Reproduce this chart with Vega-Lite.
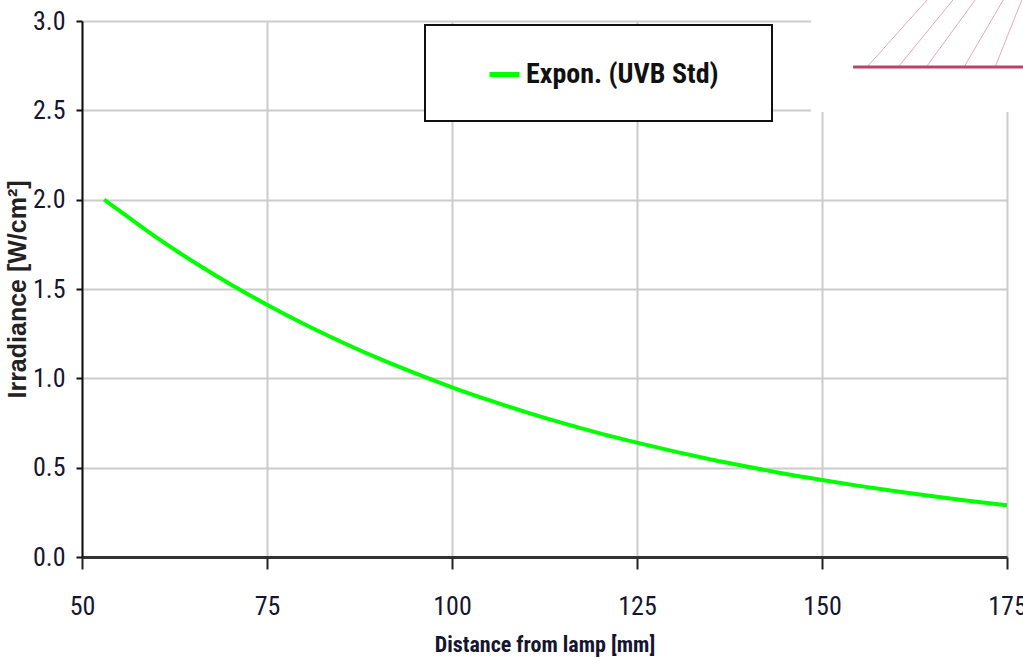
{
  "$schema": "https://vega.github.io/schema/vega-lite/v6.json",
  "width": 925,
  "height": 536,
  "autosize": {"type": "none"},
  "padding": {"left": 82, "top": 21, "right": 16, "bottom": 103},
  "background": "white",
  "config": {"view": {"stroke": null}, "legend": {"strokeWidth": 2}},
  "datasets": {
    "curve": [
      {"distance": 53, "irradiance": 2.0, "series": "Expon. (UVB Std)"},
      {"distance": 55, "irradiance": 1.94, "series": "Expon. (UVB Std)"},
      {"distance": 60, "irradiance": 1.79, "series": "Expon. (UVB Std)"},
      {"distance": 65, "irradiance": 1.654, "series": "Expon. (UVB Std)"},
      {"distance": 70, "irradiance": 1.528, "series": "Expon. (UVB Std)"},
      {"distance": 75, "irradiance": 1.412, "series": "Expon. (UVB Std)"},
      {"distance": 80, "irradiance": 1.304, "series": "Expon. (UVB Std)"},
      {"distance": 85, "irradiance": 1.205, "series": "Expon. (UVB Std)"},
      {"distance": 90, "irradiance": 1.113, "series": "Expon. (UVB Std)"},
      {"distance": 95, "irradiance": 1.029, "series": "Expon. (UVB Std)"},
      {"distance": 100, "irradiance": 0.95, "series": "Expon. (UVB Std)"},
      {"distance": 105, "irradiance": 0.878, "series": "Expon. (UVB Std)"},
      {"distance": 110, "irradiance": 0.811, "series": "Expon. (UVB Std)"},
      {"distance": 115, "irradiance": 0.749, "series": "Expon. (UVB Std)"},
      {"distance": 120, "irradiance": 0.692, "series": "Expon. (UVB Std)"},
      {"distance": 125, "irradiance": 0.64, "series": "Expon. (UVB Std)"},
      {"distance": 130, "irradiance": 0.591, "series": "Expon. (UVB Std)"},
      {"distance": 135, "irradiance": 0.546, "series": "Expon. (UVB Std)"},
      {"distance": 140, "irradiance": 0.505, "series": "Expon. (UVB Std)"},
      {"distance": 145, "irradiance": 0.466, "series": "Expon. (UVB Std)"},
      {"distance": 150, "irradiance": 0.431, "series": "Expon. (UVB Std)"},
      {"distance": 155, "irradiance": 0.398, "series": "Expon. (UVB Std)"},
      {"distance": 160, "irradiance": 0.368, "series": "Expon. (UVB Std)"},
      {"distance": 165, "irradiance": 0.34, "series": "Expon. (UVB Std)"},
      {"distance": 170, "irradiance": 0.314, "series": "Expon. (UVB Std)"},
      {"distance": 175, "irradiance": 0.29, "series": "Expon. (UVB Std)"}
    ],
    "cover": [
      {"distance": 148.5, "distance2": 177.3, "irradiance": 2.49, "irradiance2": 3.12}
    ],
    "hatch": [
      {"distance": 156.1, "distance2": 164.2, "irradiance": 2.743, "irradiance2": 3.118},
      {"distance": 160.3, "distance2": 167.7, "irradiance": 2.743, "irradiance2": 3.118},
      {"distance": 164.1, "distance2": 170.7, "irradiance": 2.743, "irradiance2": 3.118},
      {"distance": 169.2, "distance2": 174.5, "irradiance": 2.743, "irradiance2": 3.118},
      {"distance": 173.4, "distance2": 177.0, "irradiance": 2.743, "irradiance2": 3.118}
    ],
    "edge": [
      {"distance": 154.2, "distance2": 177.3, "irradiance": 2.743}
    ]
  },
  "layer": [
    {
      "data": {"name": "cover"},
      "mark": {"type": "rect", "fill": "white", "stroke": null, "clip": false},
      "encoding": {
        "x": {"field": "distance", "type": "quantitative", "scale": {"domain": [50, 175], "nice": false, "zero": false}},
        "x2": {"field": "distance2"},
        "y": {"field": "irradiance", "type": "quantitative", "scale": {"domain": [0, 3], "nice": false}},
        "y2": {"field": "irradiance2"}
      }
    },
    {
      "data": {"name": "hatch"},
      "mark": {"type": "rule", "stroke": "#e3a9bd", "strokeWidth": 1, "clip": false},
      "encoding": {
        "x": {"field": "distance", "type": "quantitative"},
        "x2": {"field": "distance2"},
        "y": {"field": "irradiance", "type": "quantitative"},
        "y2": {"field": "irradiance2"}
      }
    },
    {
      "data": {"name": "edge"},
      "mark": {"type": "rule", "stroke": "#b8446c", "strokeWidth": 3, "clip": false},
      "encoding": {
        "x": {"field": "distance", "type": "quantitative"},
        "x2": {"field": "distance2"},
        "y": {"field": "irradiance", "type": "quantitative"}
      }
    },
    {
      "data": {"name": "curve"},
      "mark": {"type": "line", "strokeWidth": 4, "interpolate": "monotone"},
      "encoding": {
        "x": {
          "field": "distance", "type": "quantitative",
          "scale": {"domain": [50, 175], "nice": false, "zero": false},
          "axis": {
            "title": "Distance from lamp [mm]",
            "values": [50, 75, 100, 125, 150, 175],
            "grid": true, "gridColor": "#cccccc", "gridWidth": 2,
            "domainColor": "#333333", "domainWidth": 3,
            "tickColor": "#222222", "tickWidth": 2, "tickSize": 12,
            "labelFont": "Roboto Condensed, Liberation Sans", "labelFontSize": 26, "labelColor": "#151530",
            "labelPadding": 24, "labelFlush": false,
            "titleFont": "Roboto Condensed, Liberation Sans", "titleFontSize": 22, "titleFontWeight": "bold",
            "titleColor": "#151530", "titlePadding": 15
          }
        },
        "y": {
          "field": "irradiance", "type": "quantitative",
          "scale": {"domain": [0, 3], "nice": false},
          "axis": {
            "title": "Irradiance [W/cm²]",
            "values": [0, 0.5, 1, 1.5, 2, 2.5, 3],
            "format": ".1f",
            "grid": true, "gridColor": "#cccccc", "gridWidth": 2,
            "domainColor": "#111111", "domainWidth": 2,
            "tickColor": "#111111", "tickWidth": 2, "tickSize": 6,
            "labelFont": "Roboto Condensed, Liberation Sans", "labelFontSize": 26, "labelColor": "#151530",
            "labelPadding": 11, "labelFlush": false,
            "titleFont": "Liberation Sans", "titleFontSize": 25, "titleFontWeight": "bold",
            "titleColor": "#222222", "titlePadding": 2
          }
        },
        "color": {
          "field": "series", "type": "nominal",
          "scale": {"domain": ["Expon. (UVB Std)"], "range": ["#00ff00"]},
          "legend": {
            "title": null,
            "orient": "none", "legendX": 343, "legendY": 4,
            "fillColor": "white", "strokeColor": "#111111",
            "padding": 32,
            "symbolType": "stroke", "symbolSize": 900, "symbolStrokeWidth": 5, "symbolOffset": 30,
            "labelFont": "Roboto Condensed, Liberation Sans", "labelFontSize": 28, "labelFontWeight": "bold",
            "labelColor": "#111111", "labelOffset": 4, "labelLimit": 0,
            "labelExpr": "datum.label + '\u2800'"
          }
        }
      }
    }
  ]
}
